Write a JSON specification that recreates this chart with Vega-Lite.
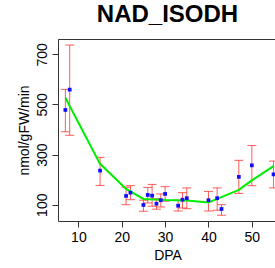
{
  "$schema": "https://vega.github.io/schema/vega-lite/v6.json",
  "autosize": "none",
  "padding": {"left": 58, "top": 39, "right": 0, "bottom": 47},
  "width": 219,
  "height": 182,
  "background": "white",
  "title": {"text": "NAD_ISODH", "font": "Liberation Sans", "fontSize": 24, "fontWeight": "bold", "color": "black", "anchor": "middle", "offset": 12},
  "config": {
    "view": {"stroke": "#333333", "strokeWidth": 1},
    "axis": {"grid": false, "domain": false, "labelFont": "Liberation Sans", "titleFont": "Liberation Sans", "labelFontSize": 14, "titleFontSize": 14, "labelColor": "black", "titleColor": "black", "titleFontWeight": "normal", "tickColor": "#333333", "tickSize": 6}
  },
  "datasets": {
    "obs": [
      {"dpa": 7, "mean": 478, "lo": 391, "hi": 560},
      {"dpa": 8, "mean": 559, "lo": 377, "hi": 737},
      {"dpa": 15, "mean": 236, "lo": 177, "hi": 289},
      {"dpa": 21, "mean": 135, "lo": 100, "hi": 170},
      {"dpa": 22, "mean": 148, "lo": 120, "hi": 176},
      {"dpa": 25, "mean": 99, "lo": 74, "hi": 118},
      {"dpa": 26, "mean": 139, "lo": 107, "hi": 169},
      {"dpa": 27, "mean": 136, "lo": 94, "hi": 181},
      {"dpa": 28, "mean": 104, "lo": 82, "hi": 124},
      {"dpa": 29, "mean": 118, "lo": 91, "hi": 143},
      {"dpa": 30, "mean": 143, "lo": 114, "hi": 172},
      {"dpa": 33, "mean": 96, "lo": 75, "hi": 118},
      {"dpa": 34, "mean": 120, "lo": 87, "hi": 148},
      {"dpa": 35, "mean": 126, "lo": 84, "hi": 167},
      {"dpa": 40, "mean": 118, "lo": 75, "hi": 153},
      {"dpa": 42, "mean": 126, "lo": 78, "hi": 167},
      {"dpa": 43, "mean": 83, "lo": 58, "hi": 100},
      {"dpa": 47, "mean": 211, "lo": 145, "hi": 277},
      {"dpa": 50, "mean": 257, "lo": 176, "hi": 336},
      {"dpa": 55, "mean": 221, "lo": 167, "hi": 274}
    ],
    "fit": [
      {"dpa": 7, "fit": 527},
      {"dpa": 15, "fit": 263},
      {"dpa": 21, "fit": 163},
      {"dpa": 25, "fit": 123},
      {"dpa": 30, "fit": 119},
      {"dpa": 35, "fit": 117},
      {"dpa": 40, "fit": 109},
      {"dpa": 42, "fit": 123},
      {"dpa": 47, "fit": 159},
      {"dpa": 50, "fit": 197},
      {"dpa": 55, "fit": 254}
    ]
  },
  "layer": [
    {
      "data": {"name": "obs"},
      "mark": {"type": "rule", "color": "#ff3333", "strokeWidth": 1, "opacity": 0.8},
      "encoding": {
        "x": {"field": "dpa", "type": "quantitative", "scale": {"domain": [5.3, 55.8], "nice": false, "zero": false}, "axis": {"values": [10, 20, 30, 40, 50], "title": "DPA", "titlePadding": 4, "labelPadding": 3}},
        "y": {"field": "lo", "type": "quantitative", "scale": {"domain": [35, 761], "nice": false, "zero": false}, "axis": {"values": [100, 200, 300, 400, 500, 600, 700], "labelExpr": "datum.value % 200 == 100 ? datum.label : ''", "labelAngle": -90, "labelAlign": "center", "labelBaseline": "bottom", "labelPadding": 3, "title": "nmol/gFW/min", "titlePadding": 4}},
        "y2": {"field": "hi"}
      }
    },
    {
      "data": {"name": "obs"},
      "mark": {"type": "tick", "orient": "horizontal", "color": "#ff3333", "size": 9, "thickness": 1, "opacity": 0.8},
      "encoding": {
        "x": {"field": "dpa", "type": "quantitative"},
        "y": {"field": "hi", "type": "quantitative"}
      }
    },
    {
      "data": {"name": "obs"},
      "mark": {"type": "tick", "orient": "horizontal", "color": "#ff3333", "size": 9, "thickness": 1, "opacity": 0.8},
      "encoding": {
        "x": {"field": "dpa", "type": "quantitative"},
        "y": {"field": "lo", "type": "quantitative"}
      }
    },
    {
      "data": {"name": "fit"},
      "mark": {"type": "line", "color": "#00ee00", "strokeWidth": 2},
      "encoding": {
        "x": {"field": "dpa", "type": "quantitative"},
        "y": {"field": "fit", "type": "quantitative"}
      }
    },
    {
      "data": {"name": "obs"},
      "mark": {"type": "point", "shape": "square", "filled": true, "color": "#1010ff", "size": 14, "opacity": 1},
      "encoding": {
        "x": {"field": "dpa", "type": "quantitative"},
        "y": {"field": "mean", "type": "quantitative"}
      }
    }
  ]
}
